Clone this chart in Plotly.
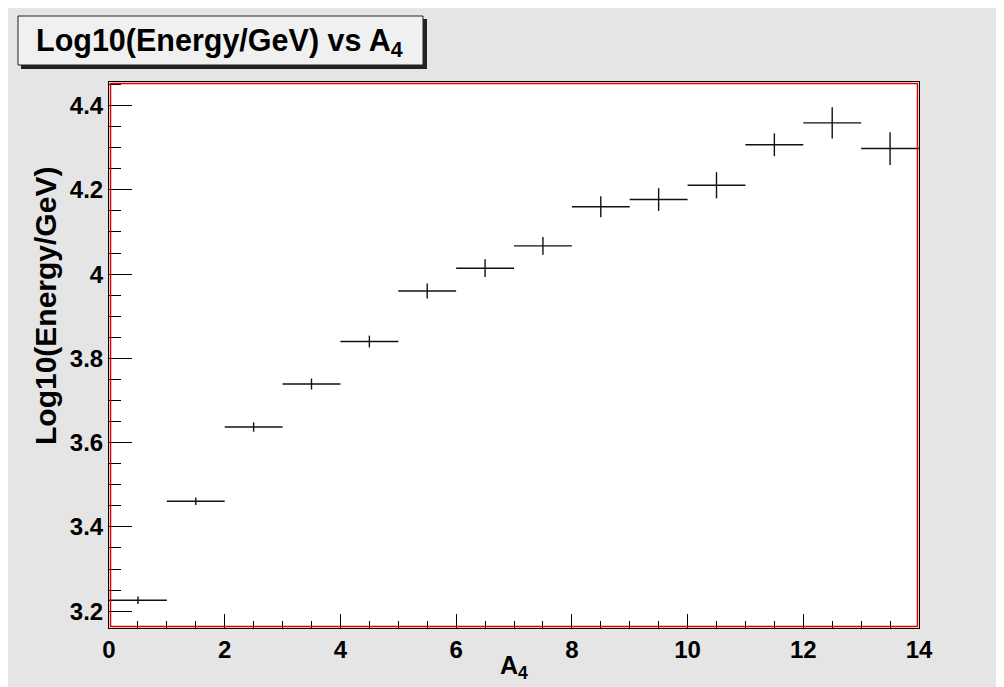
import plotly.graph_objects as go

# ---- data ----
bin_centers = [0.5, 1.5, 2.5, 3.5, 4.5, 5.5, 6.5, 7.5, 8.5, 9.5, 10.5, 11.5, 12.5, 13.5]
bin_half_width = [0.5] * 14
log_energy = [3.226, 3.461, 3.637, 3.739, 3.840, 3.960, 4.014, 4.067,
              4.160, 4.177, 4.211, 4.307, 4.359, 4.298]
log_energy_err = [0.009, 0.009, 0.011, 0.013, 0.014, 0.018, 0.021, 0.021,
                  0.025, 0.027, 0.031, 0.027, 0.037, 0.039]

title_text = "Log10(Energy/GeV) vs A<sub>4</sub>"
x_title = "A<sub>4</sub>"
y_title = "Log10(Energy/GeV)"
x_range = [0, 14]
y_range = [3.16, 4.456]

# ---- layout geometry (pixels) ----
W, H = 1004, 687
L, R, T, B = 101, 911, 74, 620
pw, ph = R - L, B - T

def px(x):
    return (x - L) / pw

def py(y):
    return (B - y) / ph

FONT = "Liberation Sans, Arial, Helvetica, sans-serif"
BG = "#e5e5e5"

fig = go.Figure()
fig.add_trace(go.Scatter(
    x=bin_centers, y=log_energy, mode="markers",
    marker=dict(size=0, color="rgba(0,0,0,0)"),
    error_x=dict(type="data", array=bin_half_width, width=0, thickness=1.4, color="#111"),
    error_y=dict(type="data", array=log_energy_err, width=0, thickness=1.4, color="#111"),
    showlegend=False, hoverinfo="x+y",
))

shapes = []
# red frame just inside the black axes
shapes.append(dict(type="rect", xref="paper", yref="paper",
                   x0=px(L + 1.5), x1=px(R - 1.5), y0=py(B - 1.5), y1=py(T + 1.5),
                   line=dict(color="#e00000", width=1.5), layer="above"))
# title box shadow and box
shapes.append(dict(type="rect", xref="paper", yref="paper",
                   x0=px(13), x1=px(419), y0=py(61), y1=py(11),
                   line=dict(width=0), fillcolor="#222", layer="above"))
shapes.append(dict(type="rect", xref="paper", yref="paper",
                   x0=px(10), x1=px(415), y0=py(57), y1=py(8),
                   line=dict(color="#222", width=1), fillcolor="#f0f0f0", layer="above"))

annotations = [
    dict(text=title_text, xref="paper", yref="paper", x=px(211), y=py(34),
         xanchor="center", yanchor="middle", showarrow=False,
         font=dict(family=FONT, size=30.5, color="black", weight="bold")),
    dict(text=x_title, xref="paper", yref="paper", x=px(506), y=py(659),
         xanchor="center", yanchor="middle", showarrow=False,
         font=dict(family=FONT, size=25, color="black", weight="bold")),
    dict(text=y_title, xref="paper", yref="paper", x=px(37), y=py(298),
         xanchor="center", yanchor="middle", showarrow=False, textangle=-90,
         font=dict(family=FONT, size=30, color="black", weight="bold")),
]

fig.update_layout(
    width=W, height=H,
    margin=dict(l=L, r=W - R, t=T, b=H - B, pad=0),
    paper_bgcolor=BG, plot_bgcolor="white",
    shapes=shapes, annotations=annotations,
    xaxis=dict(range=x_range, dtick=2, tick0=0, ticks="inside", ticklen=14,
               tickcolor="black", tickwidth=1, showline=True, linecolor="black",
               linewidth=1, mirror=True, showgrid=False, zeroline=False,
               tickfont=dict(family=FONT, size=24, color="black", weight="bold"),
               minor=dict(dtick=0.5, ticks="inside", ticklen=7, tickcolor="black",
                          showgrid=False)),
    yaxis=dict(range=y_range, dtick=0.2, tick0=3.2, ticks="inside", ticklen=23,
               tickcolor="black", tickwidth=1, showline=True, linecolor="black",
               linewidth=1, mirror=True, showgrid=False, zeroline=False,
               tickformat="~g",
               tickfont=dict(family=FONT, size=24, color="black", weight="bold"),
               minor=dict(dtick=0.05, ticks="inside", ticklen=12, tickcolor="black",
                          showgrid=False)),
)

fig.write_html("out.html")
